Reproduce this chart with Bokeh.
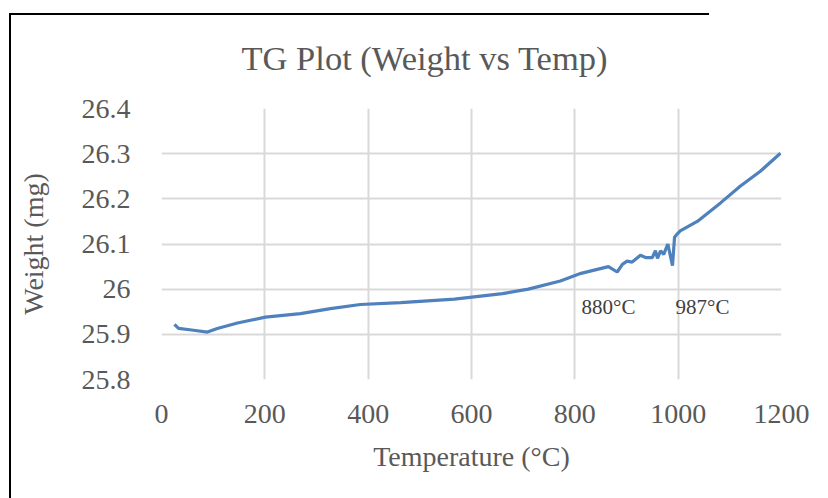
from bokeh.plotting import figure
from bokeh.models import Label, FixedTicker, CustomJSTickFormatter
from bokeh.embed import file_html
from bokeh.resources import INLINE

# ---- data ----
temperature = [25, 33, 62, 89, 108, 147, 201, 269, 327, 385, 463, 567, 660, 710,
               772, 812, 865, 882, 892, 901, 911, 927, 937, 950, 956, 960, 966,
               972, 980, 989, 993, 998, 1004, 1037, 1082, 1120, 1159, 1198]
weight = [25.922, 25.913, 25.909, 25.905, 25.913, 25.925, 25.938, 25.946, 25.957,
          25.966, 25.970, 25.978, 25.990, 26.000, 26.018, 26.035, 26.050, 26.038,
          26.055, 26.062, 26.060, 26.075, 26.070, 26.070, 26.085, 26.068, 26.085,
          26.077, 26.100, 26.052, 26.115, 26.122, 26.129, 26.150, 26.191, 26.228,
          26.261, 26.301]

x_ticks = [0, 200, 400, 600, 800, 1000, 1200]
y_ticks = [25.8, 25.9, 26.0, 26.1, 26.2, 26.3, 26.4]
y_tick_labels = ["25.8", "25.9", "26", "26.1", "26.2", "26.3", "26.4"]

title_text = "TG Plot (Weight vs Temp)"
x_title = "Temperature (°C)"
y_title = "Weight (mg)"
annot_text = ["880°C", "987°C"]
annot_x = [813, 995]
annot_y = [25.960, 25.960]

FONT = "Liberation Serif"
GRAY = "#595959"

p = figure(width=828, height=498, output_backend="svg", toolbar_location=None,
           x_range=(0, 1200), y_range=(25.8, 26.4),
           min_border_left=161, min_border_right=47,
           min_border_top=108, min_border_bottom=119)
p.outline_line_color = None
p.background_fill_color = "white"
p.border_fill_color = None

# chart-area border (left and top edges of the Excel chart box) drawn via CSS
p.styles = {
    "background-color": "white",
    "background-image": "linear-gradient(#000, #000), linear-gradient(#000, #000)",
    "background-size": "2px 485px, 700px 2px",
    "background-position": "9px 13px, 9px 13px",
    "background-repeat": "no-repeat",
}

p.line(temperature, weight, line_color="#4F81BD", line_width=3.2)

# title
p.title.text = title_text
p.title.text_font = FONT
p.title.text_font_size = "34.5px"
p.title.text_font_style = "normal"
p.title.text_color = GRAY
p.title.align = "left"
p.title.offset = 80
p.title.standoff = 64

# axes
p.xaxis.ticker = FixedTicker(ticks=x_ticks)
p.yaxis.ticker = FixedTicker(ticks=y_ticks)
p.yaxis.formatter = CustomJSTickFormatter(args=dict(labels=y_tick_labels),
                                          code="return labels[index];")
for ax in (p.xaxis[0], p.yaxis[0]):
    ax.axis_line_color = None
    ax.major_tick_line_color = None
    ax.minor_tick_line_color = None
    ax.major_label_text_font = FONT
    ax.major_label_text_font_size = "28px"
    ax.major_label_text_color = GRAY
    ax.axis_label_text_font = FONT
    ax.axis_label_text_font_size = "28px"
    ax.axis_label_text_color = GRAY
    ax.axis_label_text_font_style = "normal"
p.xaxis.axis_label = x_title
p.yaxis.axis_label = y_title
p.xaxis.major_label_standoff = 19
p.xaxis.axis_label_standoff = 15
p.yaxis.major_label_standoff = 25
p.yaxis.axis_label_standoff = 30

p.xgrid.ticker = FixedTicker(ticks=x_ticks)
p.ygrid.ticker = FixedTicker(ticks=y_ticks)
p.grid.grid_line_color = "#d9d9d9"
p.grid.grid_line_width = 2

# annotations
for tx, ty, tt in zip(annot_x, annot_y, annot_text):
    p.add_layout(Label(x=tx, y=ty, text=tt, text_font=FONT, text_font_size="21px",
                       text_color="#404040", text_align="left",
                       text_baseline="alphabetic"))

open("out.html", "w").write(file_html(p, INLINE))
